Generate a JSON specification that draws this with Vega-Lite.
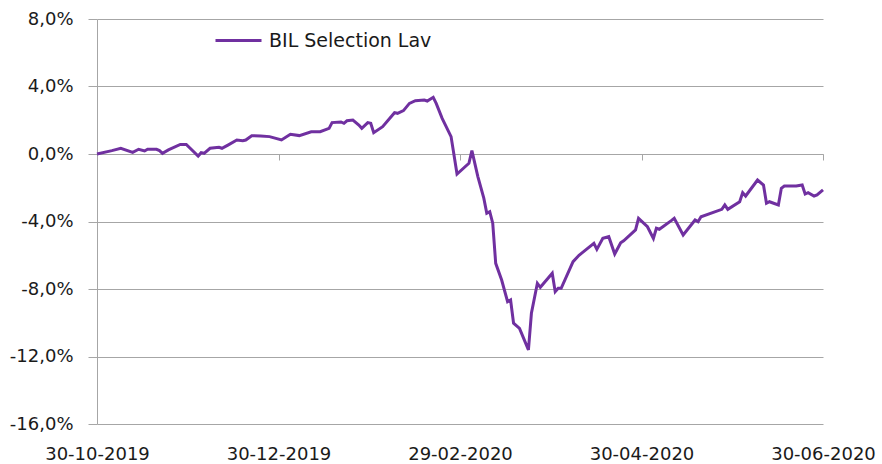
{
  "$schema": "https://vega.github.io/schema/vega-lite/v6.json",
  "width": 726,
  "height": 405,
  "autosize": {"type": "none"},
  "padding": {"left": 97, "top": 19, "right": 59, "bottom": 40},
  "background": "white",
  "config": {
    "view": {"stroke": null},
    "font": "DejaVu Sans"
  },
  "data": {
    "values": [
      {"date": "2019-10-30", "value": 0.0},
      {"date": "2019-11-04", "value": 0.2},
      {"date": "2019-11-07", "value": 0.34},
      {"date": "2019-11-11", "value": 0.1},
      {"date": "2019-11-13", "value": 0.28},
      {"date": "2019-11-15", "value": 0.18},
      {"date": "2019-11-16", "value": 0.28},
      {"date": "2019-11-19", "value": 0.28},
      {"date": "2019-11-20", "value": 0.2},
      {"date": "2019-11-21", "value": 0.04},
      {"date": "2019-11-23", "value": 0.24},
      {"date": "2019-11-27", "value": 0.57},
      {"date": "2019-11-29", "value": 0.57},
      {"date": "2019-12-03", "value": -0.12},
      {"date": "2019-12-04", "value": 0.08},
      {"date": "2019-12-05", "value": 0.04},
      {"date": "2019-12-07", "value": 0.34},
      {"date": "2019-12-10", "value": 0.4},
      {"date": "2019-12-11", "value": 0.34},
      {"date": "2019-12-13", "value": 0.53},
      {"date": "2019-12-16", "value": 0.83},
      {"date": "2019-12-18", "value": 0.79},
      {"date": "2019-12-19", "value": 0.83},
      {"date": "2019-12-21", "value": 1.08},
      {"date": "2019-12-24", "value": 1.07},
      {"date": "2019-12-27", "value": 1.03},
      {"date": "2019-12-31", "value": 0.83},
      {"date": "2020-01-03", "value": 1.17},
      {"date": "2020-01-06", "value": 1.09},
      {"date": "2020-01-10", "value": 1.32},
      {"date": "2020-01-13", "value": 1.32},
      {"date": "2020-01-16", "value": 1.52},
      {"date": "2020-01-17", "value": 1.86},
      {"date": "2020-01-20", "value": 1.9},
      {"date": "2020-01-21", "value": 1.82},
      {"date": "2020-01-22", "value": 1.97},
      {"date": "2020-01-24", "value": 2.01},
      {"date": "2020-01-26", "value": 1.72},
      {"date": "2020-01-27", "value": 1.52},
      {"date": "2020-01-29", "value": 1.86},
      {"date": "2020-01-30", "value": 1.82},
      {"date": "2020-01-31", "value": 1.26},
      {"date": "2020-02-03", "value": 1.62},
      {"date": "2020-02-07", "value": 2.45},
      {"date": "2020-02-08", "value": 2.41},
      {"date": "2020-02-10", "value": 2.57},
      {"date": "2020-02-12", "value": 3.0},
      {"date": "2020-02-14", "value": 3.16},
      {"date": "2020-02-17", "value": 3.2},
      {"date": "2020-02-18", "value": 3.14},
      {"date": "2020-02-20", "value": 3.36},
      {"date": "2020-02-21", "value": 3.0},
      {"date": "2020-02-23", "value": 2.11},
      {"date": "2020-02-26", "value": 1.03},
      {"date": "2020-02-28", "value": -1.19},
      {"date": "2020-03-03", "value": -0.55},
      {"date": "2020-03-04", "value": 0.2},
      {"date": "2020-03-06", "value": -1.34},
      {"date": "2020-03-08", "value": -2.62},
      {"date": "2020-03-09", "value": -3.51},
      {"date": "2020-03-10", "value": -3.42},
      {"date": "2020-03-11", "value": -4.1},
      {"date": "2020-03-12", "value": -6.48},
      {"date": "2020-03-14", "value": -7.47},
      {"date": "2020-03-16", "value": -8.75},
      {"date": "2020-03-17", "value": -8.65},
      {"date": "2020-03-18", "value": -10.03},
      {"date": "2020-03-20", "value": -10.33},
      {"date": "2020-03-23", "value": -11.61},
      {"date": "2020-03-24", "value": -9.44},
      {"date": "2020-03-26", "value": -7.66},
      {"date": "2020-03-27", "value": -7.9},
      {"date": "2020-03-31", "value": -7.07},
      {"date": "2020-04-01", "value": -8.16},
      {"date": "2020-04-02", "value": -7.96},
      {"date": "2020-04-03", "value": -7.96},
      {"date": "2020-04-07", "value": -6.38},
      {"date": "2020-04-09", "value": -6.0},
      {"date": "2020-04-14", "value": -5.29},
      {"date": "2020-04-15", "value": -5.65},
      {"date": "2020-04-17", "value": -5.0},
      {"date": "2020-04-19", "value": -4.9},
      {"date": "2020-04-21", "value": -5.93},
      {"date": "2020-04-23", "value": -5.26},
      {"date": "2020-04-24", "value": -5.14},
      {"date": "2020-04-28", "value": -4.5},
      {"date": "2020-04-29", "value": -3.81},
      {"date": "2020-05-02", "value": -4.31},
      {"date": "2020-05-04", "value": -5.0},
      {"date": "2020-05-05", "value": -4.4},
      {"date": "2020-05-06", "value": -4.46},
      {"date": "2020-05-10", "value": -3.95},
      {"date": "2020-05-11", "value": -3.81},
      {"date": "2020-05-14", "value": -4.8},
      {"date": "2020-05-18", "value": -3.91},
      {"date": "2020-05-19", "value": -4.01},
      {"date": "2020-05-20", "value": -3.72},
      {"date": "2020-05-27", "value": -3.28},
      {"date": "2020-05-28", "value": -3.02},
      {"date": "2020-05-29", "value": -3.28},
      {"date": "2020-06-02", "value": -2.83},
      {"date": "2020-06-03", "value": -2.29},
      {"date": "2020-06-04", "value": -2.49},
      {"date": "2020-06-08", "value": -1.54},
      {"date": "2020-06-10", "value": -1.84},
      {"date": "2020-06-11", "value": -2.92},
      {"date": "2020-06-12", "value": -2.83},
      {"date": "2020-06-15", "value": -3.02},
      {"date": "2020-06-16", "value": -2.03},
      {"date": "2020-06-17", "value": -1.9},
      {"date": "2020-06-21", "value": -1.9},
      {"date": "2020-06-23", "value": -1.84},
      {"date": "2020-06-24", "value": -2.37},
      {"date": "2020-06-25", "value": -2.29},
      {"date": "2020-06-27", "value": -2.49},
      {"date": "2020-06-28", "value": -2.43},
      {"date": "2020-06-30", "value": -2.13}
    ]
  },
  "mark": {"type": "line", "strokeWidth": 3, "interpolate": "linear"},
  "encoding": {
    "x": {
      "field": "date",
      "type": "temporal",
      "scale": {
        "type": "utc",
        "domain": [
          {"year": 2019, "month": 10, "date": 30, "utc": true},
          {"year": 2020, "month": 6, "date": 30, "utc": true}
        ],
        "nice": false
      },
      "axis": {
        "title": null,
        "values": [
          {"year": 2019, "month": 10, "date": 30, "utc": true},
          {"year": 2019, "month": 12, "date": 30, "utc": true},
          {"year": 2020, "month": 2, "date": 29, "utc": true},
          {"year": 2020, "month": 4, "date": 30, "utc": true},
          {"year": 2020, "month": 6, "date": 30, "utc": true}
        ],
        "labelExpr": "utcFormat(datum.value, '%d-%m-%Y')",
        "offset": -270,
        "grid": false,
        "domain": true,
        "domainColor": "#a6a6a6",
        "ticks": true,
        "tickColor": "#a6a6a6",
        "tickSize": 6,
        "labelPadding": 285,
        "labelFontSize": 18,
        "labelColor": "#1a1a1a",
        "labelFont": "DejaVu Sans",
        "labelAngle": 0,
        "labelOverlap": false,
        "labelFlush": false
      }
    },
    "y": {
      "field": "value",
      "type": "quantitative",
      "scale": {"domain": [-16, 8], "nice": false, "zero": false},
      "axis": {
        "title": null,
        "values": [-16, -12, -8, -4, 0, 4, 8],
        "labelExpr": "(datum.value < 0 ? '-' : '') + replace(format(abs(datum.value), '.1f'), '.', ',') + '%'",
        "grid": true,
        "gridColor": "#a6a6a6",
        "gridWidth": 1,
        "domain": true,
        "domainColor": "#a6a6a6",
        "ticks": true,
        "tickColor": "#a6a6a6",
        "tickSize": 9,
        "labelPadding": 15,
        "labelFontSize": 18,
        "labelColor": "#1a1a1a",
        "labelFont": "DejaVu Sans"
      }
    },
    "color": {
      "datum": "BIL Selection Lav",
      "type": "nominal",
      "scale": {"range": ["#7030a0"]},
      "legend": {
        "title": null,
        "orient": "none",
        "legendX": 117,
        "legendY": -3,
        "padding": 0,
        "symbolType": "stroke",
        "symbolSize": 2116,
        "symbolStrokeWidth": 3,
        "labelFontSize": 19,
        "labelFont": "DejaVu Sans",
        "labelColor": "#1a1a1a",
        "labelOffset": 6,
        "labelLimit": 400
      }
    }
  }
}
